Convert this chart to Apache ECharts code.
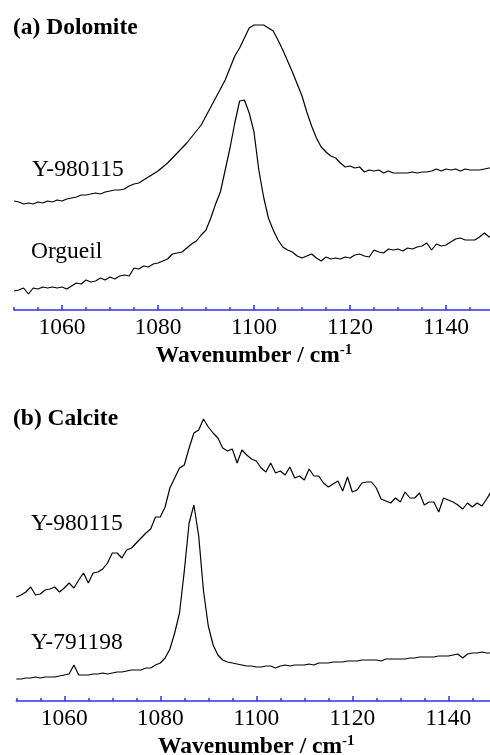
<!DOCTYPE html>
<html>
<head>
<meta charset="utf-8">
<script src="https://cdn.jsdelivr.net/npm/echarts@6/dist/echarts.min.js"></script>
<style>html,body{margin:0;padding:0;background:#fff}#c{width:490px;height:755px}</style>
</head>
<body>
<div id="c"></div>
<script>
// ---- data ----
const wavenumbers = Array.from({length: 101}, (_, i) => 1050 + i);
const majorTicks = [1060, 1080, 1100, 1120, 1140];

// Panel (a) Dolomite (arbitrary intensity units, stacked offsets)
const dolY980115 = [109,108,106,107,106,108,107,109,108,110,109,111,112,113,115,115,116,117,116,118,
  119,120,120,121,124,126,127,130,133,136,139,143,147,152,157,162,167,173,179,185,
  194,203,212,221,230,242,254,262,272,282,285,285,285,282,279,270,260,249,238,226,
  214,198,184,172,163,158,154,152,147,143,144,142,143,138,140,139,140,137,139,137,
  137,137,137,138,137,138,138,139,141,139,141,140,141,139,141,140,140,140,141,142,142];
const dolOrgueil = [19,20,22,16,22,21,23,22,23,22,23,21,24,27,26,30,28,29,32,30,
  33,31,34,35,34,42,41,44,43,46,47,49,51,56,57,58,62,66,69,75,
  80,92,106,118,140,162,187,209,210,197,178,140,113,92,80,70,63,60,58,54,
  52,54,56,52,49,53,51,52,51,53,52,55,56,54,53,60,58,57,61,60,
  61,59,62,61,63,64,67,60,66,64,65,68,71,72,70,70,70,73,77,73,74];

// Panel (b) Calcite
const calY980115 = [104,106,109,114,106,107,111,112,114,109,113,118,113,121,128,118,128,129,132,138,
  148,148,143,151,153,158,163,168,172,184,184,194,213,223,233,236,253,268,271,282,
  274,268,263,253,250,252,238,251,246,242,240,233,229,238,228,230,226,234,223,225,
  221,232,225,225,218,214,217,220,210,224,209,211,218,219,219,213,202,200,198,203,
  199,209,203,203,208,196,199,199,189,203,201,199,196,192,198,194,198,195,202,210,212];
const calY791198 = [22,22,23,23,24,23,24,24,24,25,26,27,36,26,26,26,27,27,28,27,
  28,29,29,30,31,31,31,33,33,36,38,43,52,68,88,130,178,196,165,110,
  75,56,46,41,39,38,37,36,35,35,34,34,35,35,33,35,36,35,36,36,
  36,37,36,38,38,38,39,39,39,40,40,40,41,41,41,41,40,42,42,42,
  42,42,43,43,44,44,44,44,45,45,45,46,47,43,47,48,48,49,48,48,48];

const seriesLabels = ['Y-980115', 'Orgueil', 'Y-980115', 'Y-791198'];
const panelTitles = ['(a) Dolomite', '(b) Calcite'];
const axisTitle = 'Wavenumber / cm';

// ---- chart ----
const FONT = '"Liberation Serif", "Times New Roman", serif';
const BLUE = '#2f2fe8';
const FS = 23.5;
const pairs = arr => wavenumbers.map((w, i) => [w, arr[i]]);

function axesFor(gridIndex) {
  return [
    {
      type: 'value', gridIndex, min: 1050, max: 1150, interval: 5, position: 'bottom',
      axisLine: {show: true, lineStyle: {color: BLUE, width: 1.5}},
      axisTick: {show: true, inside: true, length: 3, lineStyle: {color: BLUE, width: 1.5}},
      axisLabel: {show: false}, splitLine: {show: false}
    },
    {
      type: 'value', gridIndex, min: 1050, max: 1150, interval: 20, position: 'bottom',
      axisLine: {show: false},
      axisTick: {show: true, inside: true, length: 5, customValues: majorTicks,
                 lineStyle: {color: BLUE, width: 1.5}},
      axisLabel: {show: true, customValues: majorTicks, color: '#000', fontFamily: FONT,
                  fontSize: FS, margin: 6, formatter: v => String(v)},
      splitLine: {show: false},
      name: '{a|' + axisTitle + '}{s|-1}', nameLocation: 'middle', nameGap: 33,
      nameTextStyle: {
        rich: {
          a: {fontFamily: FONT, fontSize: FS, fontWeight: 'bold', color: '#000', lineHeight: 25},
          s: {fontFamily: FONT, fontSize: 15, fontWeight: 'bold', color: '#000', verticalAlign: 'top', lineHeight: 25}
        }
      }
    }
  ];
}

const lineSeries = (xi, yi, data) => ({
  type: 'line', xAxisIndex: xi, yAxisIndex: yi, data: pairs(data), showSymbol: false,
  lineStyle: {color: '#000', width: 1.2}, animation: false, silent: true
});

const txt = (text, x, y, bold) => ({
  type: 'text', x, y, silent: true,
  style: {text, fill: '#000', font: (bold ? 'bold ' : '') + FS + 'px ' + FONT, verticalAlign: 'middle', align: 'left'}
});

const chart = echarts.init(document.getElementById('c'), null, {renderer: 'canvas'});
chart.setOption({
  animation: false,
  backgroundColor: '#fff',
  grid: [
    {left: 14, width: 480, top: 0, height: 310, containLabel: false, outerBoundsMode: 'none'},
    {left: 16.3, width: 480, top: 400, height: 301, containLabel: false, outerBoundsMode: 'none'}
  ],
  xAxis: [...axesFor(0), ...axesFor(1)],
  yAxis: [
    {type: 'value', gridIndex: 0, min: 0, max: 310, show: false},
    {type: 'value', gridIndex: 1, min: 0, max: 301, show: false}
  ],
  series: [
    lineSeries(0, 0, dolY980115),
    lineSeries(0, 0, dolOrgueil),
    lineSeries(2, 1, calY980115),
    lineSeries(2, 1, calY791198)
  ],
  graphic: [
    txt(panelTitles[0], 13, 28, true),
    txt(seriesLabels[0], 32, 170, false),
    txt(seriesLabels[1], 31, 252, false),
    txt(panelTitles[1], 13, 419, true),
    txt(seriesLabels[2], 31, 524, false),
    txt(seriesLabels[3], 31, 643, false)
  ]
});
</script>
</body>
</html>
